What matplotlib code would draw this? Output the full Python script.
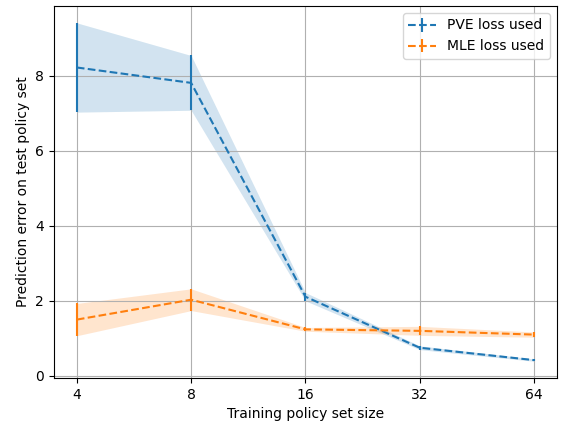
import matplotlib
matplotlib.use("Agg")
import matplotlib.pyplot as plt
import numpy as np

# training set sizes and prediction errors (mean, std) for each loss
set_sizes = [4, 8, 16, 32, 64]
pve_mean = [8.22, 7.81, 2.11, 0.75, 0.42]
pve_std = [1.19, 0.73, 0.11, 0.05, 0.03]
mle_mean = [1.50, 2.03, 1.24, 1.20, 1.10]
mle_std = [0.43, 0.29, 0.05, 0.12, 0.07]

fig = plt.figure(figsize=(5.62, 4.23), dpi=100)
ax = fig.add_axes([0.096, 0.106, 0.895, 0.880])

for mean, std, label in [(pve_mean, pve_std, "PVE loss used"),
                         (mle_mean, mle_std, "MLE loss used")]:
    mean = np.array(mean)
    std = np.array(std)
    line = ax.errorbar(set_sizes, mean, yerr=std, linestyle="--", label=label)
    ax.fill_between(set_sizes, mean - std, mean + std,
                    color=line[0].get_color(), alpha=0.2, linewidth=0)

ax.set_xscale("log", base=2)
ax.set_xticks(set_sizes)
ax.set_xticklabels([str(s) for s in set_sizes])
ax.minorticks_off()
ax.set_xlabel("Training policy set size")
ax.set_ylabel("Prediction error on test policy set")
ax.grid(True)
ax.legend(loc="upper right")

fig.savefig("out.png", dpi=100)
